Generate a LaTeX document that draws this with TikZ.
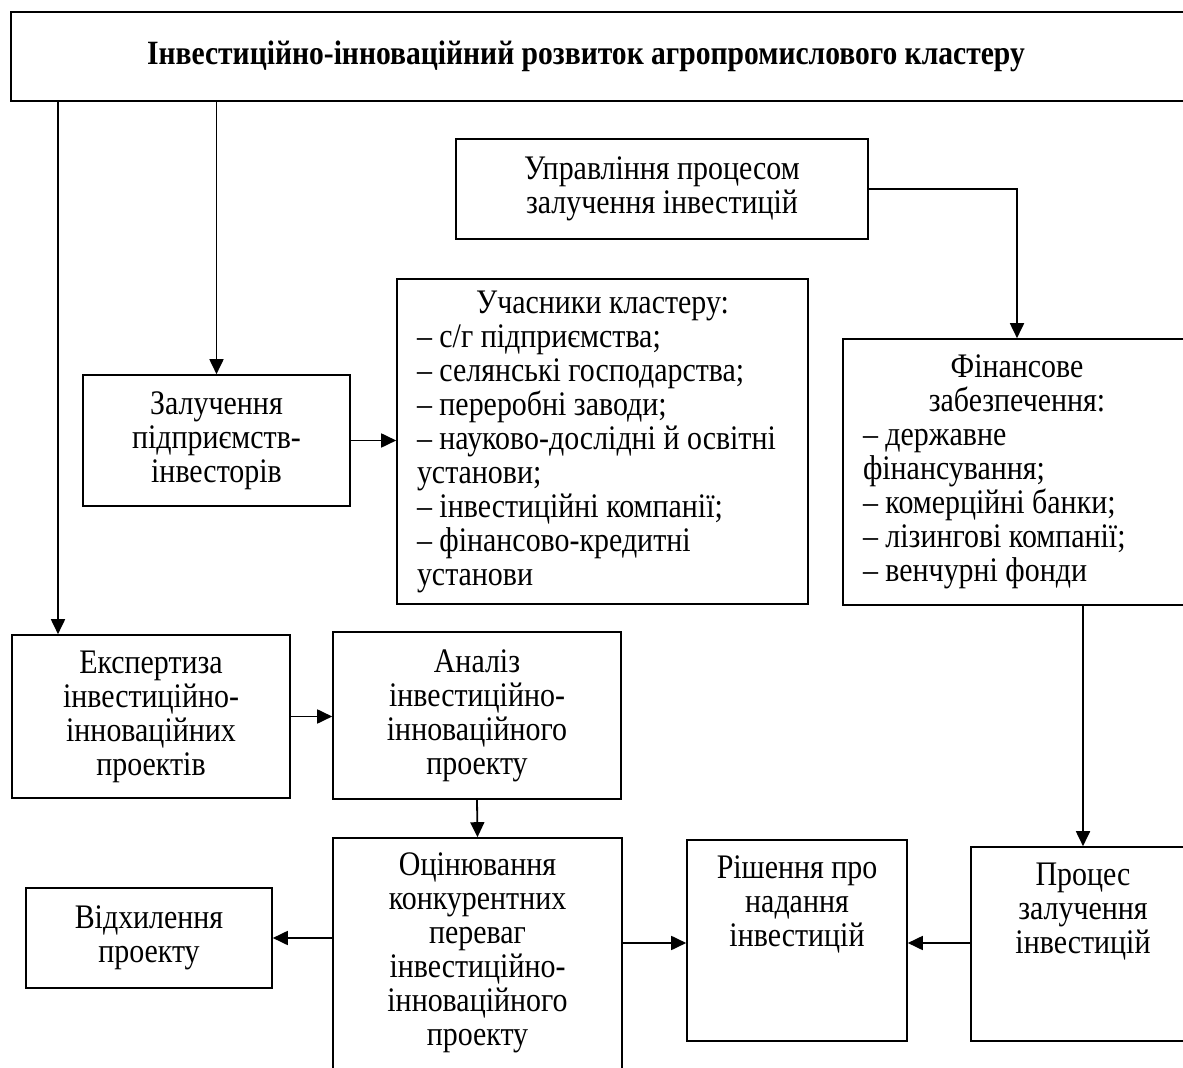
\documentclass[tikz,border=0pt]{standalone}
\usepackage{fontspec}
\setmainfont{Liberation Serif}[FakeStretch=0.87]
\usetikzlibrary{arrows.meta}
\begin{document}
\begin{tikzpicture}[x=0.5pt,y=-0.5pt,
  box/.style={draw, line width=0.8pt, align=center, inner sep=0pt, font=\fontsize{17.2}{17}\selectfont},
  txt/.style={align=center, inner sep=0pt, font=\fontsize{17.2}{17}\selectfont},
  arr/.style={line width=0.9pt, -{Triangle[length=7.5pt,width=7pt]}}]
\useasboundingbox (0,0) rectangle (1183,1068);
\clip (0,0) rectangle (1183,1068);
% title
\node[box, minimum width=592pt, minimum height=44.5pt] (top) at (603,56.5) {};
\node[txt, font=\fontsize{17}{17}\selectfont\bfseries] (toptxt) at (586,56) {Інвестиційно-інноваційний розвиток агропромислового кластеру};
% boxes
\node[box, minimum width=206pt, minimum height=50pt] (upr) at (662,189) {Управління процесом\\залучення інвестицій};
\node[box, minimum width=174pt, minimum height=133pt, text width=154pt, align=flush left] (fin) at (1017,472)
  {\makebox[154pt]{Фінансове}\\\makebox[154pt]{забезпечення:}\\– державне\\фінансування;\\– комерційні банки;\\– лізингові компанії;\\– венчурні фонди};
\node[box, minimum width=205.5pt, minimum height=162.5pt, text width=185.5pt, align=flush left] (uch) at (602.5,441.5)
  {\makebox[185.5pt]{Учасники кластеру:}\\– с/г підприємства;\\– селянські господарства;\\– переробні заводи;\\– науково-дослідні й освітні\\установи;\\– інвестиційні компанії;\\– фінансово-кредитні\\установи};
\node[box, minimum width=133.5pt, minimum height=65.5pt] (zal) at (216.5,440.5) {Залучення\\підприємств-\\інвесторів};
\node[box, minimum width=139pt, minimum height=81.5pt] (eksp) at (151,716.5) {Експертиза\\інвестиційно-\\інноваційних\\проектів};
\node[box, minimum width=144pt, minimum height=83.5pt] (anal) at (477,715.5) {Аналіз\\інвестиційно-\\інноваційного\\проекту};
\node[box, minimum width=144.5pt, minimum height=131pt] (ocin) at (477.5,969) {};
\node[txt, anchor=north] (ocint) at (477.5,852) {Оцінювання\\конкурентних\\переваг\\інвестиційно-\\інноваційного\\проекту};
\node[box, minimum width=110pt, minimum height=100.5pt] (rish) at (797,940.5) {};
\node[txt, anchor=north] (risht) at (797,855) {Рішення про\\надання\\інвестицій};
\node[box, minimum width=112pt, minimum height=97pt] (proc) at (1083,944) {};
\node[txt, anchor=north] (proct) at (1083,863) {Процес\\залучення\\інвестицій};
\node[box, minimum width=123pt, minimum height=50pt] (vidh) at (149,938) {Відхилення\\проекту};
% helper coordinates
\coordinate (cx) at (58,0);
\coordinate (ry) at (0,943);
% connectors
\draw[arr] (top.south -| cx) -- (eksp.north -| cx);
\draw[arr] (top.south -| zal.north) -- (zal.north);
\draw[arr] (zal.east) -- (zal.east -| uch.west);
\draw[arr] (upr.east) -| (fin.north);
\draw[arr] (fin.south -| proc.north) -- (proc.north);
\draw[arr] (eksp.east) -- (eksp.east -| anal.west);
\draw[arr] (anal.south) -- (ocin.north);
\draw[arr] (ocin.west |- vidh.east) -- (vidh.east);
\draw[arr] (ocin.east |- ry) -- (rish.west |- ry);
\draw[arr] (proc.west |- ry) -- (rish.east |- ry);
\end{tikzpicture}
\end{document}
